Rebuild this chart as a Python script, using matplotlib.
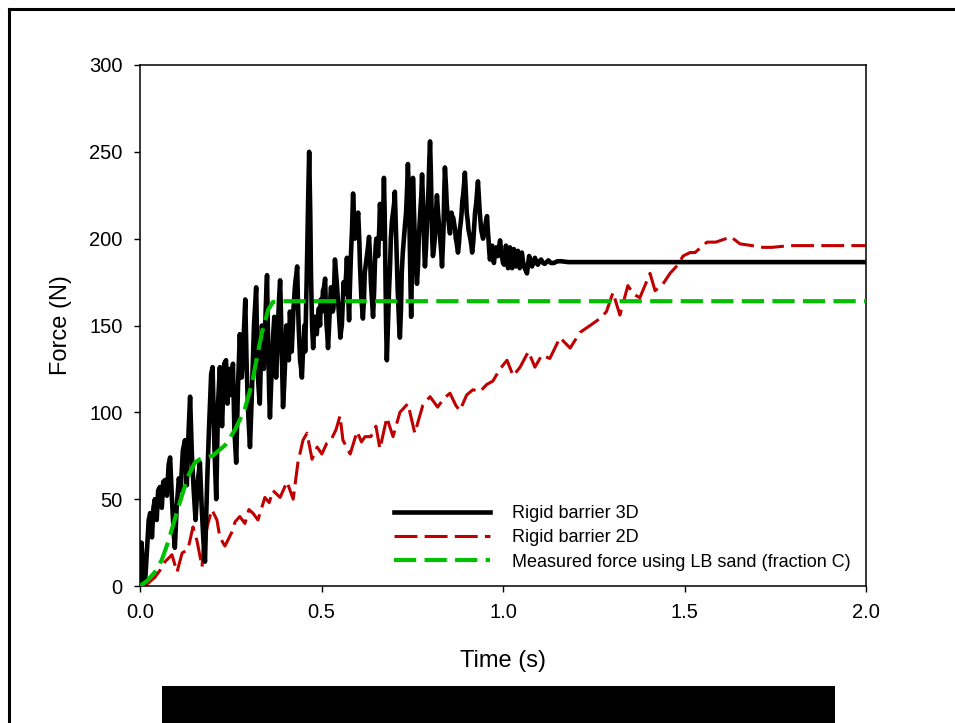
import matplotlib
matplotlib.use("Agg")
import matplotlib.pyplot as plt
from matplotlib.lines import Line2D
from matplotlib.patches import Rectangle

plt.rcParams['font.family'] = ['Liberation Sans', 'DejaVu Sans']
plt.rcParams['lines.scale_dashes'] = False

# ---- data ----
t_3d = [0.000, 0.004, 0.009, 0.014, 0.019, 0.024, 0.028, 0.033, 0.037, 0.041, 0.046, 0.050, 0.055, 0.060,
        0.064, 0.069, 0.074, 0.079, 0.083, 0.088, 0.093, 0.096, 0.101, 0.107, 0.112, 0.118, 0.124, 0.129,
        0.134, 0.138, 0.143, 0.148, 0.153, 0.159, 0.165, 0.170, 0.175, 0.179, 0.185, 0.190, 0.196, 0.200,
        0.205, 0.210, 0.215, 0.220, 0.226, 0.232, 0.237, 0.241, 0.246, 0.251, 0.256, 0.260, 0.265, 0.270,
        0.275, 0.280, 0.285, 0.290, 0.294, 0.298, 0.303, 0.308, 0.314, 0.320, 0.323, 0.325, 0.328, 0.330,
        0.333, 0.336, 0.339, 0.341, 0.344, 0.346, 0.348, 0.350, 0.352, 0.354, 0.356, 0.358, 0.361, 0.364,
        0.367, 0.370, 0.372, 0.375, 0.378, 0.380, 0.383, 0.386, 0.388, 0.390, 0.392, 0.394, 0.397, 0.400,
        0.403, 0.407, 0.410, 0.413, 0.416, 0.418, 0.421, 0.423, 0.426, 0.428, 0.431, 0.433, 0.435, 0.437,
        0.439, 0.441, 0.444, 0.446, 0.449, 0.451, 0.453, 0.455, 0.458, 0.460, 0.463, 0.466, 0.469, 0.471,
        0.474, 0.477, 0.480, 0.482, 0.485, 0.487, 0.490, 0.493, 0.496, 0.498, 0.501, 0.504, 0.507, 0.510,
        0.512, 0.514, 0.516, 0.518, 0.521, 0.523, 0.526, 0.528, 0.531, 0.533, 0.535, 0.537, 0.540, 0.542,
        0.545, 0.547, 0.550, 0.552, 0.554, 0.556, 0.559, 0.561, 0.563, 0.565, 0.568, 0.570, 0.573, 0.576,
        0.578, 0.581, 0.584, 0.587, 0.590, 0.592, 0.595, 0.597, 0.599, 0.601, 0.604, 0.606, 0.608, 0.610,
        0.612, 0.614, 0.617, 0.619, 0.622, 0.625, 0.628, 0.631, 0.634, 0.636, 0.639, 0.642, 0.645, 0.647,
        0.649, 0.651, 0.654, 0.656, 0.659, 0.661, 0.664, 0.667, 0.670, 0.672, 0.674, 0.676, 0.678, 0.680,
        0.683, 0.686, 0.689, 0.691, 0.694, 0.697, 0.700, 0.702, 0.705, 0.707, 0.710, 0.712, 0.714, 0.716,
        0.719, 0.721, 0.724, 0.727, 0.730, 0.733, 0.736, 0.738, 0.741, 0.743, 0.745, 0.747, 0.750, 0.752,
        0.755, 0.757, 0.760, 0.763, 0.766, 0.768, 0.770, 0.772, 0.775, 0.777, 0.779, 0.781, 0.783, 0.785,
        0.788, 0.790, 0.793, 0.795, 0.797, 0.799, 0.801, 0.803, 0.805, 0.807, 0.810, 0.812, 0.815, 0.818,
        0.821, 0.823, 0.825, 0.827, 0.830, 0.832, 0.834, 0.836, 0.838, 0.840, 0.843, 0.845, 0.848, 0.850,
        0.852, 0.854, 0.856, 0.858, 0.861, 0.863, 0.866, 0.868, 0.870, 0.872, 0.874, 0.876, 0.879, 0.881,
        0.884, 0.886, 0.888, 0.890, 0.893, 0.895, 0.898, 0.900, 0.903, 0.905, 0.908, 0.910, 0.913, 0.915,
        0.918, 0.920, 0.923, 0.926, 0.929, 0.931, 0.934, 0.936, 0.938, 0.940, 0.943, 0.945, 0.948, 0.950,
        0.953, 0.956, 0.958, 0.960, 0.962, 0.964, 0.967, 0.970, 0.972, 0.975, 0.978, 0.981, 0.984, 0.986,
        0.989, 0.992, 0.995, 0.997, 1.000, 1.003, 1.006, 1.008, 1.011, 1.014, 1.017, 1.019, 1.022, 1.025,
        1.028, 1.030, 1.033, 1.035, 1.038, 1.041, 1.044, 1.046, 1.049, 1.052, 1.055, 1.058, 1.062, 1.066,
        1.069, 1.072, 1.076, 1.080, 1.084, 1.088, 1.092, 1.096, 1.100, 1.105, 1.110, 1.115, 1.120, 1.125,
        1.132, 1.140, 1.150, 1.160, 1.180, 1.200, 1.400, 1.600, 1.800, 2.000]
f_3d = [0, 25, 8, 2, 20, 38, 42, 28, 45, 50, 38, 55, 57, 45,
        60, 61, 52, 70, 74, 50, 30, 22, 45, 62, 55, 78, 84, 58,
        90, 109, 75, 55, 38, 60, 71, 45, 25, 14, 60, 90, 122, 126,
        80, 50, 105, 126, 92, 128, 130, 105, 125, 110, 128, 90, 71, 115,
        145, 120, 140, 165, 125, 100, 80, 110, 150, 172, 135, 120, 110, 105,
        130, 150, 140, 125, 145, 160, 170, 179, 150, 130, 110, 97, 115, 130,
        145, 155, 135, 120, 135, 150, 165, 176, 160, 140, 118, 103, 115, 130,
        150, 145, 130, 158, 145, 135, 150, 160, 170, 175, 180, 184, 165, 150,
        140, 130, 125, 120, 135, 140, 150, 135, 165, 185, 220, 250, 215, 180,
        150, 137, 150, 155, 148, 145, 155, 160, 150, 165, 158, 170, 172, 177,
        160, 150, 145, 137, 150, 160, 172, 170, 158, 160, 175, 188, 180, 175,
        165, 160, 150, 143, 147, 150, 165, 175, 168, 170, 180, 189, 170, 153,
        170, 190, 205, 226, 210, 200, 205, 210, 212, 215, 200, 185, 175, 165,
        160, 154, 165, 180, 185, 190, 195, 201, 188, 175, 165, 155, 170, 185,
        195, 200, 195, 190, 205, 220, 210, 200, 215, 235, 215, 180, 150, 130,
        150, 170, 185, 200, 210, 215, 220, 227, 205, 190, 170, 160, 150, 143,
        160, 180, 192, 200, 208, 215, 230, 243, 225, 200, 175, 155, 195, 235,
        215, 200, 185, 174, 185, 200, 208, 215, 225, 237, 225, 210, 195, 184,
        195, 205, 220, 230, 245, 256, 240, 220, 200, 190, 195, 200, 212, 225,
        215, 210, 205, 200, 192, 184, 195, 205, 225, 241, 230, 220, 212, 210,
        206, 203, 210, 215, 212, 212, 208, 205, 200, 198, 195, 192, 198, 205,
        210, 215, 222, 225, 232, 238, 225, 215, 210, 205, 202, 200, 196, 192,
        198, 205, 215, 220, 228, 233, 222, 215, 210, 205, 202, 200, 203, 205,
        210, 213, 205, 200, 193, 188, 192, 196, 190, 186, 192, 195, 190, 190,
        195, 199, 192, 190, 186, 185, 190, 196, 190, 183, 188, 195, 188, 183,
        188, 194, 188, 184, 190, 193, 187, 183, 188, 192, 187, 184, 182, 180,
        185, 190, 187, 184, 187, 189, 186, 185, 187, 188, 186, 185.5, 186.5, 187.5,
        186, 186, 187, 187, 186.5, 186.5, 186.5, 186.5, 186.5, 186.5]

t_2d = [0.014, 0.030, 0.041, 0.055, 0.069, 0.088, 0.102, 0.116, 0.132, 0.146, 0.157, 0.171, 0.174, 0.186,
        0.198, 0.212, 0.220, 0.234, 0.253, 0.262, 0.275, 0.289, 0.300, 0.311, 0.325, 0.344, 0.356, 0.366,
        0.386, 0.405, 0.422, 0.435, 0.449, 0.460, 0.474, 0.488, 0.501, 0.514, 0.526, 0.540, 0.551, 0.559,
        0.579, 0.598, 0.610, 0.620, 0.636, 0.650, 0.661, 0.680, 0.697, 0.716, 0.738, 0.757, 0.779, 0.799,
        0.820, 0.837, 0.854, 0.870, 0.881, 0.900, 0.917, 0.937, 0.955, 0.972, 0.992, 1.011, 1.028, 1.047,
        1.070, 1.088, 1.107, 1.129, 1.157, 1.185, 1.212, 1.240, 1.267, 1.285, 1.303, 1.322, 1.344, 1.360,
        1.377, 1.405, 1.419, 1.441, 1.460, 1.482, 1.496, 1.515, 1.529, 1.545, 1.562, 1.586, 1.614, 1.628,
        1.653, 1.686, 1.716, 1.741, 1.790, 1.850, 1.920, 2.000]
f_2d = [0, 3, 5, 9, 14, 18, 8, 19, 21, 34, 26, 11, 22, 35,
        44, 38, 28, 23, 31, 37, 40, 36, 44, 42, 38, 51, 48, 55,
        51, 60, 50, 71, 84, 88, 73, 80, 76, 82, 84, 90, 98, 84,
        76, 89, 83, 86, 86, 92, 79, 97, 86, 100, 105, 88, 104, 109,
        103, 108, 111, 104, 101, 110, 113, 112, 116, 118, 125, 130, 121, 126,
        135, 126, 133, 131, 143, 137, 146, 150, 154, 158, 169, 156, 173, 168,
        166, 180, 170, 174, 180, 185, 190, 192, 192, 195, 198, 198, 200, 201,
        197, 196, 195, 195, 196, 196, 196, 196]

t_lb = [0.000, 0.020, 0.041, 0.060, 0.077, 0.105, 0.132, 0.151, 0.165, 0.179, 0.200, 0.234, 0.262, 0.289,
        0.309, 0.317, 0.336, 0.353, 0.366, 0.380, 2.000]
f_lb = [0, 3, 8, 15, 25, 45, 63, 71, 73, 74, 75, 81, 90, 102,
        117, 126, 146, 159, 163.5, 164, 164]

xticks = [0.0, 0.5, 1.0, 1.5, 2.0]
yticks = [0, 50, 100, 150, 200, 250, 300]
labels = ["Rigid barrier 3D", "Rigid barrier 2D", "Measured force using LB sand (fraction C)"]

# ---- figure ----
fig = plt.figure(figsize=(9.55, 7.23), dpi=100)
ax = fig.add_axes([140/955, 1-586/723, 726/955, 521/723])

ax.plot(t_3d, f_3d, color='black', lw=3.3, solid_joinstyle='round', label=labels[0], zorder=3)
ax.plot(t_2d, f_2d, color='#c00000', lw=2.2, dashes=(16.5, 5.2), label=labels[1], zorder=2)
ax.plot(t_lb, f_lb, color='#00c000', lw=3.0, dashes=(16, 6), label=labels[2], zorder=4)

ax.set_xlim(0, 2.0)
ax.set_ylim(0, 300)
ax.set_xticks(xticks)
ax.set_xticklabels([f"{v:.1f}" for v in xticks])
ax.set_yticks(yticks)
ax.tick_params(direction='out', length=4.5, width=1.0, labelsize=14.5, pad=8)
for s in ax.spines.values():
    s.set_linewidth(1.1)
ax.set_xlabel("Time (s)", fontsize=17, labelpad=20)
ax.set_ylabel("Force (N)", fontsize=17, labelpad=12)

leg = ax.legend(loc='upper left', bbox_to_anchor=(0.35, 0.155), frameon=False, fontsize=13.0,
                handlelength=5.3, handletextpad=1.25, labelspacing=0.4, borderpad=0, borderaxespad=0)

# figure frame and redaction block
fig.add_artist(Line2D([9/955, 9/955], [0, 1-9/723], transform=fig.transFigure, color='black', lw=2.2))
fig.add_artist(Line2D([9/955, 1], [1-9/723, 1-9/723], transform=fig.transFigure, color='black', lw=2.2))
fig.add_artist(Rectangle((162/955, 0), 673/955, 37/723, transform=fig.transFigure,
                         facecolor='black', edgecolor='none'))

fig.savefig("out.png", dpi=100)
